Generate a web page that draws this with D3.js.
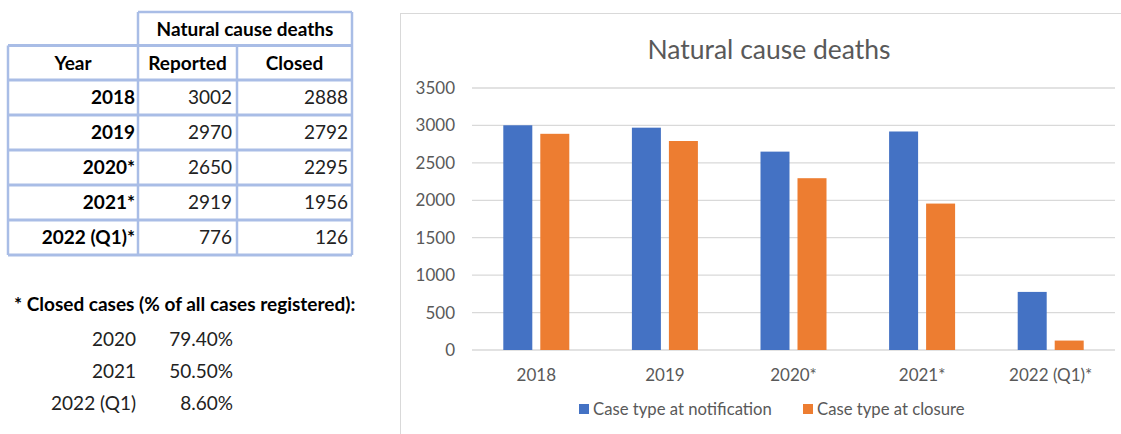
<!DOCTYPE html>
<html>
<head>
<meta charset="utf-8">
<script src="https://cdn.jsdelivr.net/npm/d3@7"></script>
<style>
  body { margin: 0; background: #fff; }
  svg { display: block; }
  text { font-family: Lato, "Open Sans", sans-serif; }
</style>
</head>
<body>
<div id="chart"></div>
<script>
// data
var years = ['2018', '2019', '2020*', '2021*', '2022 (Q1)*'];
var reported = [3002, 2970, 2650, 2919, 776];
var closedCases = [2888, 2792, 2295, 1956, 126];
var seriesNames = ['Case type at notification', 'Case type at closure'];
var yTicks = [0, 500, 1000, 1500, 2000, 2500, 3000, 3500];
var pctYears = ['2020', '2021', '2022 (Q1)'];
var pctValues = ['79.40%', '50.50%', '8.60%'];

var W = 1121, H = 434;
var svg = d3.select('#chart').append('svg')
    .attr('width', W)
    .attr('height', H);

// ---------- table ----------
var tbl = svg.append('g').attr('class', 'table');
var colX = [8, 138, 237, 352];
var rowY = [12, 45.5, 80, 115, 150, 185, 220, 255];
var lineCol = '#a9bde6';

// horizontal lines
tbl.append('line').attr('x1', colX[1]).attr('x2', colX[3]).attr('y1', rowY[0]).attr('y2', rowY[0])
    .attr('stroke', lineCol).attr('stroke-width', 2.5);
for (var r = 1; r < rowY.length; r++) {
    tbl.append('line').attr('x1', colX[0]).attr('x2', colX[3]).attr('y1', rowY[r]).attr('y2', rowY[r])
        .attr('stroke', lineCol).attr('stroke-width', 3);
}
// vertical lines
tbl.append('line').attr('x1', colX[0]).attr('x2', colX[0]).attr('y1', rowY[1]).attr('y2', rowY[7])
    .attr('stroke', lineCol).attr('stroke-width', 2.5);
tbl.append('line').attr('x1', colX[1]).attr('x2', colX[1]).attr('y1', rowY[0]).attr('y2', rowY[7])
    .attr('stroke', lineCol).attr('stroke-width', 2.5);
tbl.append('line').attr('x1', colX[2]).attr('x2', colX[2]).attr('y1', rowY[1]).attr('y2', rowY[7])
    .attr('stroke', lineCol).attr('stroke-width', 2.5);
tbl.append('line').attr('x1', colX[3]).attr('x2', colX[3]).attr('y1', rowY[0]).attr('y2', rowY[7])
    .attr('stroke', lineCol).attr('stroke-width', 2.5);

var fs = 19;
tbl.append('text').attr('x', (colX[1] + colX[3]) / 2).attr('y', 29).attr('dy', '0.35em')
    .attr('text-anchor', 'middle').attr('font-weight', 'bold').attr('font-size', fs)
    .text('Natural cause deaths');
[['Year', 73], ['Reported', 187.5], ['Closed', 294.5]].forEach(function(h) {
    tbl.append('text').attr('x', h[1]).attr('y', 63.5).attr('dy', '0.35em')
        .attr('text-anchor', 'middle').attr('font-weight', 'bold').attr('font-size', fs)
        .text(h[0]);
});

var rows = tbl.selectAll('.row')
    .data(years)
    .enter().append('g')
    .attr('class', 'row')
    .attr('transform', function(d, i) { return 'translate(0,' + ((rowY[i + 2] + rowY[i + 3]) / 2) + ')'; });
rows.append('text').attr('x', 135).attr('dy', '0.35em').attr('text-anchor', 'end')
    .attr('font-weight', 'bold').attr('font-size', fs).text(function(d) { return d; });
rows.append('text').attr('x', 232).attr('dy', '0.35em').attr('text-anchor', 'end')
    .attr('font-size', fs).attr('fill', '#222').text(function(d, i) { return reported[i]; });
rows.append('text').attr('x', 348).attr('dy', '0.35em').attr('text-anchor', 'end')
    .attr('font-size', fs).attr('fill', '#222').text(function(d, i) { return closedCases[i]; });

// footnote
tbl.append('text').attr('x', 14).attr('y', 304).attr('dy', '0.35em')
    .attr('font-weight', 'bold').attr('font-size', fs)
    .text('* Closed cases (% of all cases registered):');
var pct = tbl.selectAll('.pct')
    .data(pctYears)
    .enter().append('g')
    .attr('class', 'pct')
    .attr('transform', function(d, i) { return 'translate(0,' + (339 + i * 32) + ')'; });
pct.append('text').attr('x', 136).attr('dy', '0.35em').attr('text-anchor', 'end')
    .attr('font-size', fs).attr('fill', '#222').text(function(d) { return d; });
pct.append('text').attr('x', 233).attr('dy', '0.35em').attr('text-anchor', 'end')
    .attr('font-size', fs).attr('fill', '#222').text(function(d, i) { return pctValues[i]; });

// ---------- chart ----------
var cg = svg.append('g').attr('class', 'chart');
cg.append('rect')
    .attr('x', 400.5).attr('y', 13.5)
    .attr('width', 730).attr('height', 440)
    .attr('fill', 'none').attr('stroke', '#d9d9d9');

var margin = {left: 472, right: 1115, top: 88, bottom: 350};
var x = d3.scaleBand().domain(years).range([margin.left, margin.right]);
var y = d3.scaleLinear().domain([0, 3500]).range([margin.bottom, margin.top]);

cg.append('text')
    .attr('x', 769).attr('y', 50).attr('dy', '0.35em')
    .attr('text-anchor', 'middle').attr('font-size', 26.5).attr('fill', '#595959')
    .text('Natural cause deaths');

// gridlines
cg.selectAll('.grid')
    .data(yTicks)
    .enter().append('line')
    .attr('class', 'grid')
    .attr('x1', margin.left).attr('x2', margin.right)
    .attr('y1', function(d) { return y(d); })
    .attr('y2', function(d) { return y(d); })
    .attr('stroke', '#d9d9d9').attr('stroke-width', 1.3);

var yAxis = cg.append('g')
    .attr('transform', 'translate(' + margin.left + ',0)')
    .call(d3.axisLeft(y).tickValues(yTicks).tickFormat(d3.format('d')).tickSize(0).tickPadding(17));
yAxis.select('.domain').remove();
yAxis.selectAll('text').attr('font-size', 17).attr('fill', '#595959')
    .style('font-family', 'Lato, sans-serif');

var xAxis = cg.append('g')
    .attr('transform', 'translate(0,' + margin.bottom + ')')
    .call(d3.axisBottom(x).tickSize(0).tickPadding(19));
xAxis.select('.domain').remove();
xAxis.selectAll('text').attr('font-size', 17).attr('fill', '#595959')
    .style('font-family', 'Lato, sans-serif');

var barW = 29, gap = 8;
var colors = ['#4472c4', '#ed7d31'];
[reported, closedCases].forEach(function(series, s) {
    cg.selectAll('.bar' + s)
        .data(series)
        .enter().append('rect')
        .attr('class', 'bar' + s)
        .attr('x', function(d, i) {
            var c = x(years[i]) + x.bandwidth() / 2;
            return s === 0 ? c - gap / 2 - barW : c + gap / 2;
        })
        .attr('y', function(d) { return y(d); })
        .attr('width', barW)
        .attr('height', function(d) { return y(0) - y(d); })
        .attr('fill', colors[s]);
});

// legend
var legX = [579, 803];
var leg = cg.selectAll('.leg')
    .data(seriesNames)
    .enter().append('g')
    .attr('class', 'leg')
    .attr('transform', function(d, i) { return 'translate(' + legX[i] + ',409)'; });
leg.append('rect').attr('x', 0).attr('y', -5).attr('width', 10).attr('height', 10)
    .attr('fill', function(d, i) { return colors[i]; });
leg.append('text').attr('x', 14).attr('dy', '0.35em').attr('font-size', 16.7)
    .attr('fill', '#595959').text(function(d) { return d; });
</script>
</body>
</html>
